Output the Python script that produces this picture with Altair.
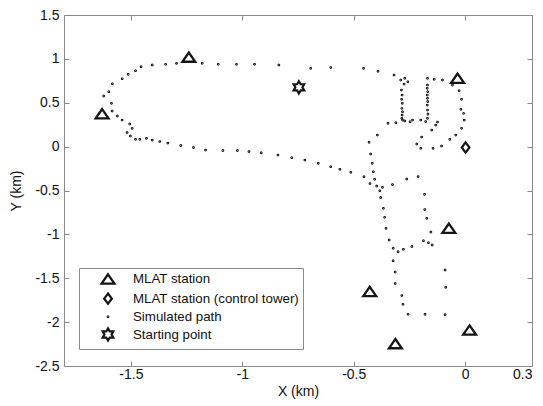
import altair as alt
import pandas as pd

# Simulated aircraft path (km), one entry per recorded position
path_x = [
    -1.622, -1.599, -1.583, -1.539, -1.512, -1.479, -1.454, -1.404, -1.344, -1.295,
    -1.180, -1.108, -1.026, -0.945, -0.836, -0.693, -0.603, -0.456, -0.391, -0.319,
    -0.271, -0.289, -0.257,
    -0.274, -0.286, -0.283, -0.285, -0.282, -0.284, -0.281, -0.283, -0.284,
    -0.281, -0.311, -0.346, -0.271, -0.247, -0.236, -0.394,
    -0.169, -0.139, -0.102,
    -0.169, -0.170, -0.168, -0.170, -0.169, -0.168, -0.170, -0.169, -0.167, -0.169,
    -0.199, -0.177, -0.124, -0.132, -0.150, -0.195,
    -0.217, -0.199, -0.144, -0.106, -0.069, -0.042, -0.016, -0.004, -0.007, -0.019,
    -0.016, -0.027, -0.057,
    -1.587, -1.584, -1.561, -1.539, -1.505, -1.494, -1.517, -1.502, -1.479, -1.460,
    -1.430, -1.404, -1.370, -1.334, -1.276, -1.219, -1.165, -1.087, -1.022, -0.970,
    -0.915, -0.840, -0.778, -0.719, -0.659, -0.603, -0.562, -0.513, -0.454, -0.427,
    -0.397, -0.383, -0.379, -0.367, -0.361, -0.355, -0.341, -0.323, -0.323, -0.314,
    -0.314, -0.284, -0.279, -0.256, -0.180, -0.090, -0.087, -0.090,
    -0.431, -0.424, -0.417, -0.412, -0.406, -0.371,
    -0.326, -0.262, -0.211,
    -0.182, -0.181, -0.172, -0.154, -0.187, -0.165, -0.148, -0.239, -0.277, -0.301,
]
path_y = [
    0.577, 0.626, 0.717, 0.774, 0.824, 0.865, 0.911, 0.930, 0.938, 0.949,
    0.949, 0.938, 0.938, 0.938, 0.930, 0.892, 0.901, 0.892, 0.858, 0.816,
    0.778, 0.759, 0.740,
    0.713, 0.645, 0.588, 0.539, 0.493, 0.436, 0.398, 0.360, 0.323,
    0.303, 0.272, 0.266, 0.292, 0.284, 0.303, 0.132,
    0.778, 0.767, 0.759,
    0.702, 0.664, 0.626, 0.588, 0.550, 0.514, 0.474, 0.417, 0.372, 0.323,
    0.303, 0.286, 0.280, 0.246, 0.189, 0.109,
    0.030, -0.019, -0.019, 0.007, 0.083, 0.132, 0.209, 0.303, 0.379, 0.425,
    0.539, 0.637, 0.702,
    0.493, 0.406, 0.349, 0.303, 0.258, 0.209, 0.161, 0.121, 0.083, 0.083,
    0.095, 0.075, 0.058, 0.041, 0.013, -0.010, -0.039, -0.044, -0.044, -0.056,
    -0.070, -0.096, -0.126, -0.153, -0.190, -0.229, -0.259, -0.293, -0.343, -0.421,
    -0.449, -0.503, -0.580, -0.703, -0.806, -0.931, -1.064, -1.159, -1.300, -1.429,
    -1.560, -1.697, -1.797, -1.911, -1.911, -1.916, -1.603, -1.406,
    0.049, -0.084, -0.190, -0.286, -0.373, -0.464,
    -0.432, -0.369, -0.341,
    -0.544, -0.717, -0.817, -0.973, -1.072, -1.095, -1.121, -1.138, -1.170, -1.198,
]

# Receiver sites (km)
station_x = [-1.240, -1.629, -0.034, -0.073, -0.428, -0.313, 0.020]
station_y = [1.020, 0.375, 0.780, -0.930, -1.650, -2.245, -2.090]
tower_x = [0.002]
tower_y = [-0.010]
start_x = [-0.746]
start_y = [0.676]

x_ticks = [-1.5, -1, -0.5, 0, 0.3]
y_ticks = [-2.5, -2, -1.5, -1, -0.5, 0, 0.5, 1, 1.5]

kinds = ["MLAT station", "MLAT station (control tower)", "Simulated path", "Starting point"]

rows = []
for xv, yv in zip(path_x, path_y):
    rows.append({"x": xv, "y": yv, "kind": kinds[2]})
for xv, yv in zip(station_x, station_y):
    rows.append({"x": xv, "y": yv, "kind": kinds[0]})
for xv, yv in zip(tower_x, tower_y):
    rows.append({"x": xv, "y": yv, "kind": kinds[1]})
for xv, yv in zip(start_x, start_y):
    rows.append({"x": xv, "y": yv, "kind": kinds[3]})
df = pd.DataFrame(rows)

FONT = "Liberation Sans, Arial, Helvetica, sans-serif"
FRAME = "#8a8a8a"
INK = "#151515"

triangle = "M0,-0.72L1,0.72L-1,0.72Z"
diamond = "M0,-1L0.75,0L0,1L-0.75,0Z"
hexagram = ("M0,-1L0.289,-0.5L0.866,-0.5L0.577,0L0.866,0.5L0.289,0.5L0,1"
            "L-0.289,0.5L-0.866,0.5L-0.577,0L-0.866,-0.5L-0.289,-0.5Z")

leg = alt.Legend(
    title=None,
    orient="none",
    legendX=15,
    legendY=253,
    strokeColor=FRAME,
    fillColor="white",
    padding=3,
    symbolOffset=18,
    labelOffset=17,
    rowPadding=0,
    labelLimit=400,
    labelFont=FONT,
    labelFontSize=13.3,
    labelColor="#111",
    symbolStrokeColor=INK,
    symbolFillColor="transparent",
)

x_scale = alt.Scale(domain=[-1.8, 0.3], nice=False, zero=False)
y_scale = alt.Scale(domain=[-2.5, 1.5], nice=False, zero=False)

bottom_axis = alt.Axis(
    orient="bottom", values=x_ticks, domain=False, grid=False, offset=-5,
    tickSize=5, tickColor=FRAME, labelExpr="'' + datum.value",
    labelPadding=1, labelFont=FONT, labelFontSize=14, labelColor="#111",
    title="X (km)", titleFont=FONT, titleFontSize=14, titleFontWeight="normal",
    titleColor="#111", titlePadding=3,
)
left_axis = alt.Axis(
    orient="left", values=y_ticks, domain=False, grid=False, offset=-5,
    tickSize=5, tickColor=FRAME, labelExpr="'' + datum.value",
    labelPadding=5, labelFont=FONT, labelFontSize=14, labelColor="#111",
    title="Y (km)", titleFont=FONT, titleFontSize=14, titleFontWeight="normal",
    titleColor="#111", titlePadding=11,
)
top_axis = alt.Axis(
    orient="top", values=x_ticks, domain=False, grid=False, offset=-5,
    tickSize=5, tickColor=FRAME, labels=False, title="",
)
right_axis = alt.Axis(
    orient="right", values=y_ticks, domain=False, grid=False, offset=-5,
    tickSize=5, tickColor=FRAME, labels=False, title="",
)

# Every marker is drawn as an outline; the path dots are tiny circles with a thick rim.
points = alt.Chart(df).mark_point(
    filled=False, stroke=INK, opacity=1
).encode(
    x=alt.X("x:Q", scale=x_scale, axis=bottom_axis),
    y=alt.Y("y:Q", scale=y_scale, axis=left_axis),
    shape=alt.Shape("kind:N", scale=alt.Scale(domain=kinds, range=[triangle, diamond, "circle", hexagram]), legend=leg),
    size=alt.Size("kind:N", scale=alt.Scale(type="ordinal", domain=kinds, range=[165, 105, 1, 150]), legend=leg),
    strokeWidth=alt.StrokeWidth("kind:N", scale=alt.Scale(type="ordinal", domain=kinds, range=[2.3, 2.2, 1.8, 2.2]), legend=leg),
)

mirror = alt.Chart(df).mark_point(opacity=0).encode(
    x=alt.X("x:Q", scale=x_scale, axis=top_axis),
    y=alt.Y("y:Q", scale=y_scale, axis=right_axis),
)

chart = alt.layer(points, mirror).properties(
    width=468,
    height=351,
    autosize=alt.AutoSizeParams(type="none"),
    padding={"left": 64, "top": 15, "right": 11, "bottom": 40},
    background="white",
).configure_view(
    stroke=FRAME, strokeWidth=1
)

chart.save("out.html", embed_options={"renderer": "svg", "actions": False})
